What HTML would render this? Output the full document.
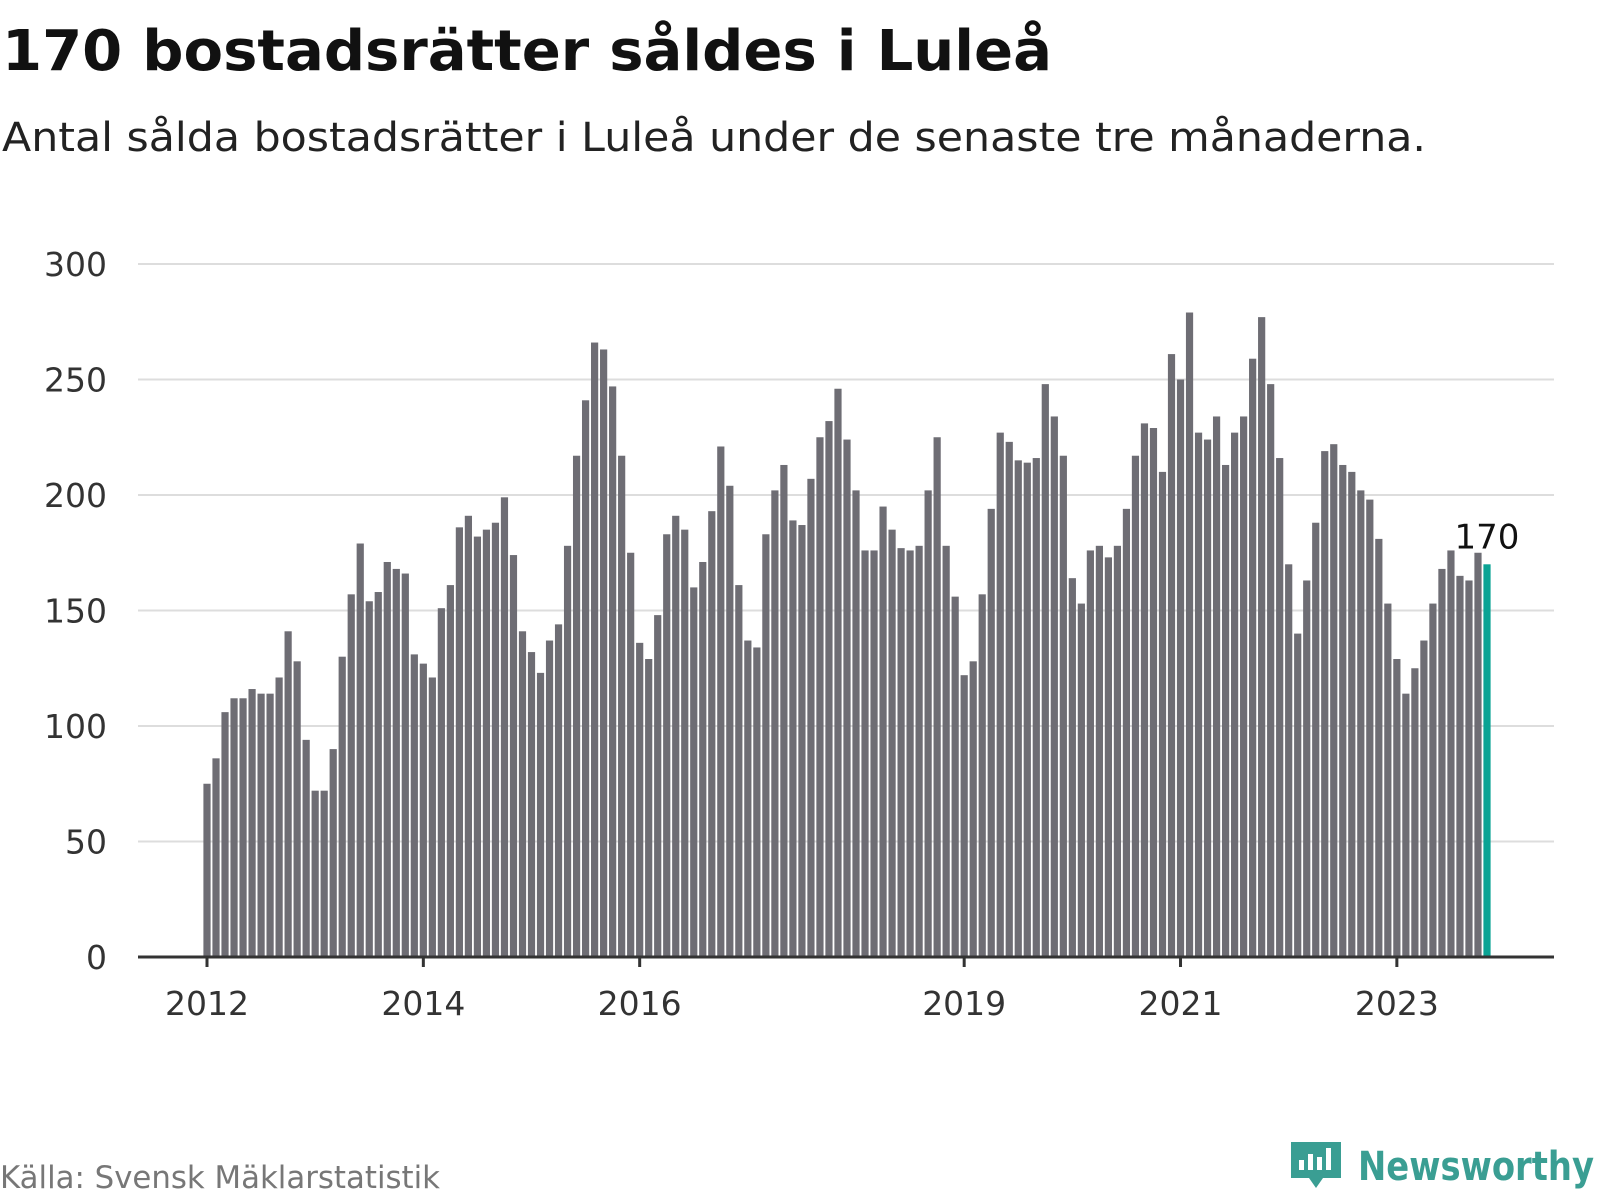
<!DOCTYPE html>
<html><head><meta charset="utf-8"><style>
html,body{margin:0;padding:0;background:#fff;}
svg{display:block;font-family:"DejaVu Sans","Liberation Sans",sans-serif;}
</style></head><body>
<svg id="chart" width="1600" height="1200" viewBox="0 0 1600 1200" xmlns="http://www.w3.org/2000/svg">
<text x="2" y="70" font-size="56" font-weight="bold" fill="#111" textLength="1050" lengthAdjust="spacingAndGlyphs">170 bostadsrätter såldes i Luleå</text>
<text x="2" y="151" font-size="40" fill="#222" textLength="1424" lengthAdjust="spacingAndGlyphs">Antal sålda bostadsrätter i Luleå under de senaste tre månaderna.</text>
<g id="grid"></g>
<g id="ylabels"></g>
<g id="bars"></g>
<g id="xaxis"></g>
<text x="0" y="1188" font-size="31" fill="#777" textLength="440" lengthAdjust="spacingAndGlyphs">Källa: Svensk Mäklarstatistik</text>
<g>
<path d="M1291 1142 h50 v36 h-18 l-7 10 l-7 -10 h-18 z" fill="#3a9e93"/>
<rect x="1299" y="1160" width="5" height="10" fill="#fff"/>
<rect x="1308" y="1154" width="5" height="16" fill="#fff"/>
<rect x="1317" y="1157" width="5" height="13" fill="#fff"/>
<rect x="1326" y="1148" width="5" height="22" fill="#fff"/>
<text x="1358" y="1180" font-size="40" font-weight="bold" fill="#3a9e93" textLength="236" lengthAdjust="spacingAndGlyphs">Newsworthy</text>
</g>
</svg>
<script>
const values = [75,86,106,112,112,116,114,114,121,141,128,94,72,72,90,130,157,179,154,158,171,168,166,131,127,121,151,161,186,191,182,185,188,199,174,
141,132,123,137,144,178,217,241,266,263,247,217,175,136,129,148,183,191,185,160,171,193,221,204,161,137,134,183,202,213,189,187,207,225,232,246,224,202,
176,176,195,185,177,176,178,202,225,178,156,122,128,157,194,227,223,215,214,216,248,234,217,164,153,176,178,173,178,194,217,231,229,210,261,250,279,
227,224,234,213,227,234,259,277,248,216,170,140,163,188,219,222,213,210,202,198,181,153,129,114,125,137,153,168,176,165,163,175,170];
const yTicks = [0,50,100,150,200,250,300];
const xTickLabels = ["2012","2014","2016","2019","2021","2023"];
const xTickIndex = [0,24,48,84,108,132];

const NS = "http://www.w3.org/2000/svg";
const plotL = 138, plotR = 1554, y0 = 957, y300 = 264;
const firstX = 207, lastX = 1487;
const step = (lastX - firstX) / (values.length - 1);
const yS = v => y0 - (v / 300) * (y0 - y300);
const xS = i => firstX + i * step;
function mk(tag, attrs, parent){const e=document.createElementNS(NS,tag);for(const k in attrs)e.setAttribute(k,attrs[k]);parent.appendChild(e);return e;}

const grid=document.getElementById('grid'), yl=document.getElementById('ylabels');
yTicks.forEach(t=>{
  if(t>0){const l=mk('line',{x1:plotL,x2:plotR,y1:yS(t),y2:yS(t),stroke:'#ddd','stroke-width':2},grid);
  
  }
  const tx=mk('text',{x:107,y:yS(t)+12,'font-size':33,fill:'#333','text-anchor':'end'},yl);
  tx.textContent=t;
  
  
});
const bars=document.getElementById('bars');
const bw=7.2;
values.forEach((v,i)=>{
  const last=i===values.length-1;
  const r=mk('rect',{x:xS(i)-bw/2,y:yS(v),width:bw,height:y0-yS(v),fill:last?'#0aa394':'#6e6d74'},bars);
  
  
});
const lastI=values.length-1;
const lab=mk('text',{x:xS(lastI),y:yS(values[lastI])-16,'font-size':34,fill:'#111','text-anchor':'middle'},bars);
lab.textContent=values[lastI];


const xa=document.getElementById('xaxis');
const ax=mk('line',{x1:plotL,x2:plotR,y1:y0,y2:y0,stroke:'#333','stroke-width':3},xa);


xTickIndex.forEach((idx,k)=>{
  const tk=mk('line',{x1:xS(idx),x2:xS(idx),y1:y0,y2:y0+10,stroke:'#333','stroke-width':3},xa);
  
  
  const t=mk('text',{x:xS(idx),y:1015,'font-size':33,fill:'#333','text-anchor':'middle'},xa);
  t.textContent=xTickLabels[k];
  
  
});
</script>
</body></html>
